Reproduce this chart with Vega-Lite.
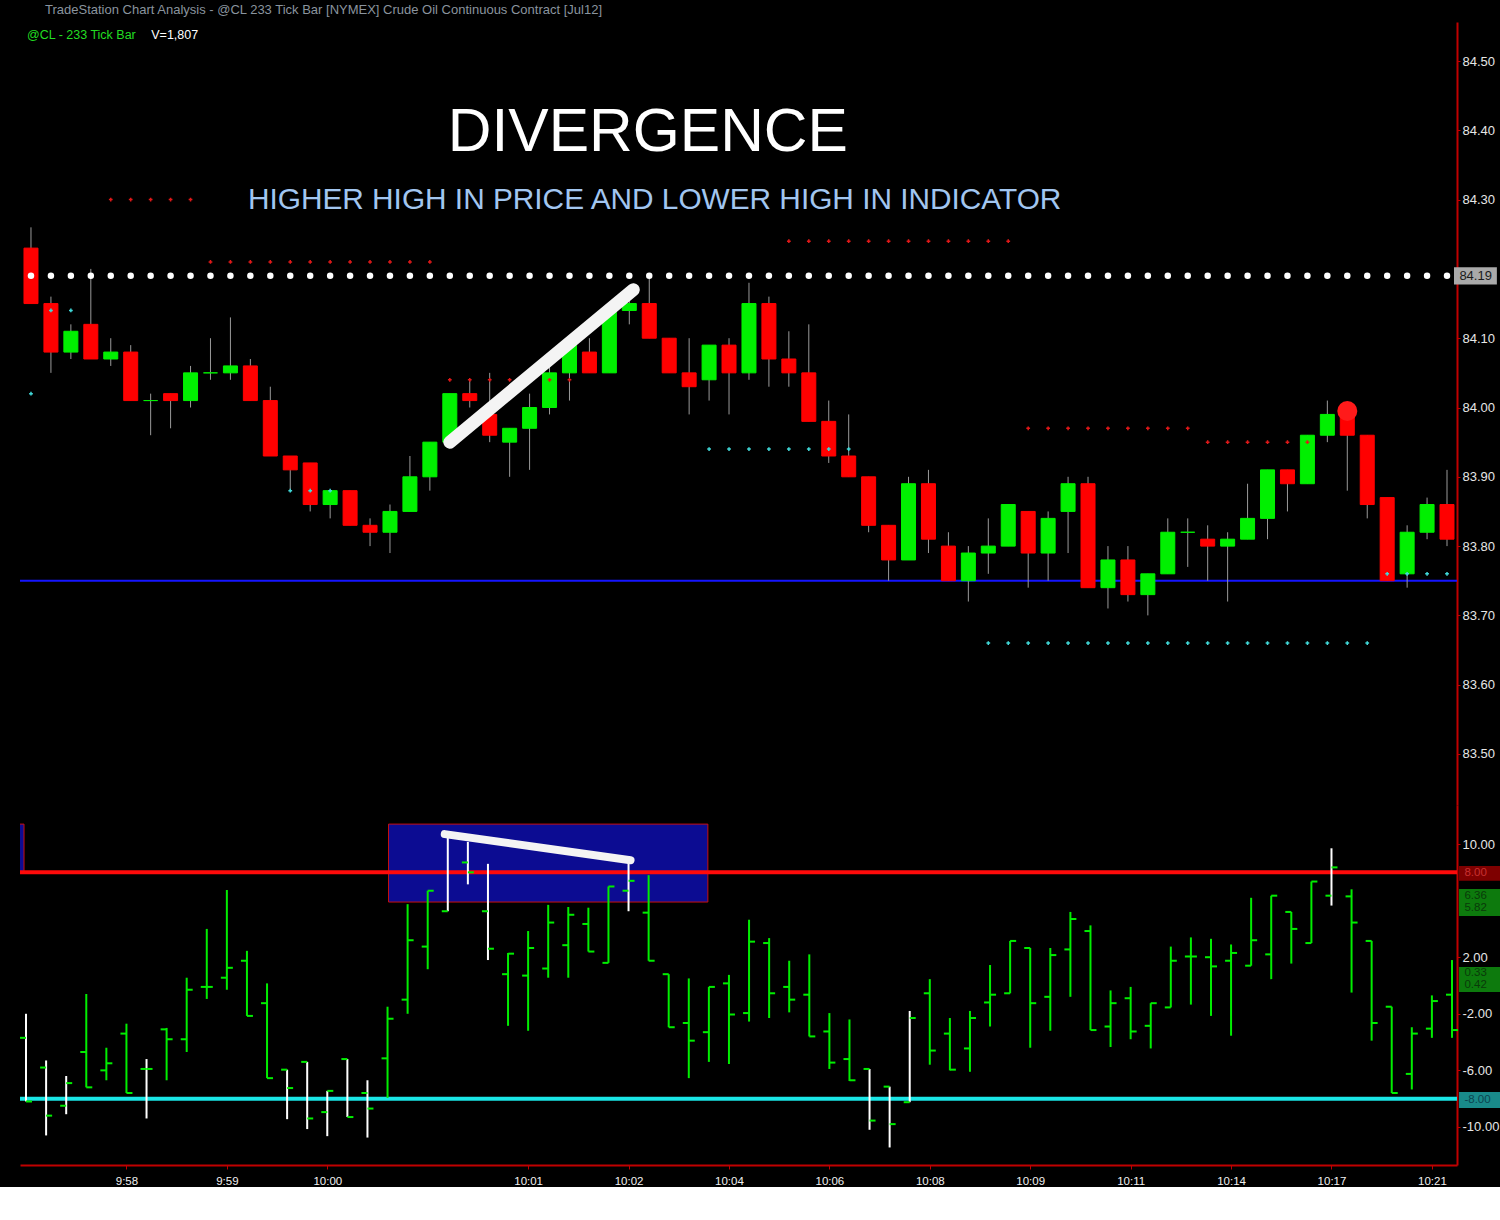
{
  "$schema": "https://vega.github.io/schema/vega-lite/v6.json",
  "background": "#000000",
  "padding": {"left": 18, "top": 4, "right": 0, "bottom": 0},
  "title": {"text": "TradeStation Chart Analysis - @CL 233 Tick Bar [NYMEX] Crude Oil Continuous Contract [Jul12]", "anchor": "start", "fontSize": 13, "font": "Liberation Sans", "fontWeight": "normal", "color": "#8a949e", "offset": 5, "dx": 27},
  "spacing": 0,
  "config": {
    "view": {"stroke": null},
    "axis": {"grid": false, "domainColor": "#c00000", "domainWidth": 2, "tickColor": "#c00000", "tickSize": 3, "labelColor": "#e6e6e6", "labelFont": "Liberation Sans", "labelFontSize": 13, "labelPadding": 2}
  },
  "resolve": {"scale": {"x": "independent", "y": "independent", "color": "independent", "fill": "independent"}},
  "datasets": {
    "bars": [
      {"i":0,"o":84.23,"h":84.26,"l":84.15,"c":84.15,"io":-3.7,"ih":-2.0,"il":-8.2,"ic":-8.2},
      {"i":1,"o":84.15,"h":84.16,"l":84.05,"c":84.08,"io":-5.8,"ih":-5.3,"il":-10.6,"ic":-9.2},
      {"i":2,"o":84.08,"h":84.12,"l":84.07,"c":84.11,"io":-8.5,"ih":-6.4,"il":-9.1,"ic":-6.9},
      {"i":3,"o":84.12,"h":84.20,"l":84.07,"c":84.07,"io":-4.7,"ih":-0.6,"il":-7.2,"ic":-7.2},
      {"i":4,"o":84.07,"h":84.10,"l":84.06,"c":84.08,"io":-6.0,"ih":-4.4,"il":-6.7,"ic":-5.5},
      {"i":5,"o":84.08,"h":84.09,"l":84.01,"c":84.01,"io":-3.4,"ih":-2.7,"il":-7.6,"ic":-7.6},
      {"i":6,"o":84.01,"h":84.02,"l":83.96,"c":84.01,"io":-5.9,"ih":-5.2,"il":-9.4,"ic":-5.9},
      {"i":7,"o":84.02,"h":84.02,"l":83.97,"c":84.01,"io":-3.1,"ih":-3.0,"il":-6.7,"ic":-3.8},
      {"i":8,"o":84.01,"h":84.06,"l":84.00,"c":84.05,"io":-3.8,"ih":0.55,"il":-4.7,"ic":-0.3},
      {"i":9,"o":84.05,"h":84.10,"l":84.04,"c":84.05,"io":-0.1,"ih":4.0,"il":-0.95,"ic":-0.1},
      {"i":10,"o":84.05,"h":84.13,"l":84.04,"c":84.06,"io":0.55,"ih":6.75,"il":-0.3,"ic":1.25},
      {"i":11,"o":84.06,"h":84.07,"l":84.01,"c":84.01,"io":1.75,"ih":2.45,"il":-2.15,"ic":-2.15},
      {"i":12,"o":84.01,"h":84.03,"l":83.93,"c":83.93,"io":-1.25,"ih":0.15,"il":-6.55,"ic":-6.55},
      {"i":13,"o":83.93,"h":83.93,"l":83.88,"c":83.91,"io":-5.95,"ih":-5.95,"il":-9.45,"ic":-7.25},
      {"i":14,"o":83.92,"h":83.92,"l":83.85,"c":83.86,"io":-5.4,"ih":-5.4,"il":-10.15,"ic":-9.4},
      {"i":15,"o":83.86,"h":83.88,"l":83.84,"c":83.88,"io":-8.95,"ih":-7.45,"il":-10.65,"ic":-7.45},
      {"i":16,"o":83.88,"h":83.88,"l":83.83,"c":83.83,"io":-5.2,"ih":-5.2,"il":-9.3,"ic":-9.3},
      {"i":17,"o":83.83,"h":83.84,"l":83.80,"c":83.82,"io":-7.6,"ih":-6.7,"il":-10.75,"ic":-8.7},
      {"i":18,"o":83.82,"h":83.86,"l":83.79,"c":83.85,"io":-5.15,"ih":-1.5,"il":-7.95,"ic":-2.35},
      {"i":19,"o":83.85,"h":83.93,"l":83.85,"c":83.90,"io":-1.0,"ih":5.75,"il":-2.0,"ic":3.2},
      {"i":20,"o":83.90,"h":83.95,"l":83.88,"c":83.95,"io":2.75,"ih":6.7,"il":1.15,"ic":6.7},
      {"i":21,"o":83.95,"h":84.02,"l":83.95,"c":84.02,"io":5.25,"ih":10.7,"il":5.25,"ic":10.6},
      {"i":22,"o":84.02,"h":84.04,"l":84.00,"c":84.01,"io":8.7,"ih":10.15,"il":7.15,"ic":8.0},
      {"i":23,"o":83.99,"h":84.05,"l":83.95,"c":83.96,"io":5.25,"ih":8.6,"il":1.8,"ic":2.6},
      {"i":24,"o":83.95,"h":83.97,"l":83.90,"c":83.97,"io":0.8,"ih":2.3,"il":-2.85,"ic":2.25},
      {"i":25,"o":83.97,"h":84.02,"l":83.91,"c":84.00,"io":0.7,"ih":3.85,"il":-3.2,"ic":2.65},
      {"i":26,"o":84.00,"h":84.06,"l":83.99,"c":84.05,"io":1.2,"ih":5.7,"il":0.55,"ic":4.45},
      {"i":27,"o":84.05,"h":84.10,"l":84.01,"c":84.09,"io":2.85,"ih":5.55,"il":0.55,"ic":5.0},
      {"i":28,"o":84.08,"h":84.10,"l":84.05,"c":84.05,"io":4.35,"ih":5.5,"il":2.4,"ic":2.4},
      {"i":29,"o":84.05,"h":84.15,"l":84.05,"c":84.14,"io":1.6,"ih":7.0,"il":1.6,"ic":7.0},
      {"i":30,"o":84.14,"h":84.16,"l":84.12,"c":84.15,"io":6.7,"ih":8.8,"il":5.25,"ic":7.4},
      {"i":31,"o":84.15,"h":84.19,"l":84.10,"c":84.10,"io":5.15,"ih":7.8,"il":1.75,"ic":1.75},
      {"i":32,"o":84.10,"h":84.10,"l":84.05,"c":84.05,"io":0.8,"ih":0.8,"il":-2.95,"ic":-2.95},
      {"i":33,"o":84.05,"h":84.10,"l":83.99,"c":84.03,"io":-2.65,"ih":0.5,"il":-6.55,"ic":-3.9},
      {"i":34,"o":84.04,"h":84.09,"l":84.01,"c":84.09,"io":-3.3,"ih":-0.1,"il":-5.4,"ic":-0.1},
      {"i":35,"o":84.09,"h":84.10,"l":83.99,"c":84.05,"io":0.15,"ih":0.75,"il":-5.55,"ic":-2.05},
      {"i":36,"o":84.05,"h":84.18,"l":84.04,"c":84.15,"io":-1.95,"ih":4.65,"il":-2.55,"ic":3.1},
      {"i":37,"o":84.15,"h":84.16,"l":84.03,"c":84.07,"io":3.0,"ih":3.35,"il":-2.3,"ic":-0.55},
      {"i":38,"o":84.07,"h":84.11,"l":84.03,"c":84.05,"io":-0.1,"ih":1.75,"il":-1.9,"ic":-1.0},
      {"i":39,"o":84.05,"h":84.12,"l":83.98,"c":83.98,"io":-0.65,"ih":2.2,"il":-3.6,"ic":-3.6},
      {"i":40,"o":83.98,"h":84.01,"l":83.92,"c":83.93,"io":-3.25,"ih":-1.95,"il":-5.9,"ic":-5.45},
      {"i":41,"o":83.93,"h":83.99,"l":83.90,"c":83.90,"io":-5.2,"ih":-2.4,"il":-6.75,"ic":-6.7},
      {"i":42,"o":83.90,"h":83.90,"l":83.82,"c":83.83,"io":-5.9,"ih":-5.9,"il":-10.2,"ic":-9.55},
      {"i":43,"o":83.83,"h":83.83,"l":83.75,"c":83.78,"io":-7.15,"ih":-7.15,"il":-11.45,"ic":-9.8},
      {"i":44,"o":83.78,"h":83.90,"l":83.78,"c":83.89,"io":-8.25,"ih":-1.8,"il":-8.25,"ic":-2.3},
      {"i":45,"o":83.89,"h":83.91,"l":83.79,"c":83.81,"io":-0.55,"ih":0.45,"il":-5.6,"ic":-4.6},
      {"i":46,"o":83.80,"h":83.82,"l":83.75,"c":83.75,"io":-3.4,"ih":-2.3,"il":-6.0,"ic":-5.95},
      {"i":47,"o":83.75,"h":83.80,"l":83.72,"c":83.79,"io":-4.45,"ih":-1.8,"il":-6.1,"ic":-2.3},
      {"i":48,"o":83.79,"h":83.84,"l":83.76,"c":83.80,"io":-1.2,"ih":1.45,"il":-2.9,"ic":-0.65},
      {"i":49,"o":83.80,"h":83.86,"l":83.80,"c":83.86,"io":-0.55,"ih":3.15,"il":-0.55,"ic":3.15},
      {"i":50,"o":83.85,"h":83.85,"l":83.74,"c":83.79,"io":2.65,"ih":2.65,"il":-4.4,"ic":-1.25},
      {"i":51,"o":83.79,"h":83.85,"l":83.75,"c":83.84,"io":-0.8,"ih":2.65,"il":-3.2,"ic":2.15},
      {"i":52,"o":83.85,"h":83.90,"l":83.79,"c":83.89,"io":2.55,"ih":5.2,"il":-0.8,"ic":4.7},
      {"i":53,"o":83.89,"h":83.90,"l":83.74,"c":83.74,"io":3.85,"ih":4.25,"il":-3.15,"ic":-3.15},
      {"i":54,"o":83.74,"h":83.80,"l":83.71,"c":83.78,"io":-2.9,"ih":-0.35,"il":-4.35,"ic":-1.25},
      {"i":55,"o":83.78,"h":83.80,"l":83.72,"c":83.73,"io":-0.9,"ih":-0.1,"il":-3.8,"ic":-3.25},
      {"i":56,"o":83.73,"h":83.76,"l":83.70,"c":83.76,"io":-2.85,"ih":-1.25,"il":-4.45,"ic":-1.25},
      {"i":57,"o":83.76,"h":83.84,"l":83.76,"c":83.82,"io":-1.55,"ih":2.75,"il":-1.55,"ic":1.75},
      {"i":58,"o":83.82,"h":83.84,"l":83.77,"c":83.82,"io":2.05,"ih":3.4,"il":-1.35,"ic":2.05},
      {"i":59,"o":83.81,"h":83.83,"l":83.75,"c":83.80,"io":2.0,"ih":3.3,"il":-2.15,"ic":1.35},
      {"i":60,"o":83.80,"h":83.82,"l":83.72,"c":83.81,"io":1.75,"ih":2.9,"il":-3.55,"ic":2.3},
      {"i":61,"o":83.81,"h":83.89,"l":83.81,"c":83.84,"io":1.4,"ih":6.2,"il":1.4,"ic":3.2},
      {"i":62,"o":83.84,"h":83.91,"l":83.81,"c":83.91,"io":2.2,"ih":6.35,"il":0.45,"ic":6.35},
      {"i":63,"o":83.91,"h":83.91,"l":83.85,"c":83.89,"io":5.2,"ih":5.2,"il":1.55,"ic":4.0},
      {"i":64,"o":83.89,"h":83.96,"l":83.89,"c":83.96,"io":3.0,"ih":7.35,"il":3.0,"ic":7.35},
      {"i":65,"o":83.96,"h":84.01,"l":83.95,"c":83.99,"io":6.35,"ih":9.7,"il":5.65,"ic":8.35},
      {"i":66,"o":83.99,"h":83.99,"l":83.88,"c":83.96,"io":6.3,"ih":6.8,"il":-0.5,"ic":4.45},
      {"i":67,"o":83.96,"h":83.96,"l":83.84,"c":83.86,"io":3.15,"ih":3.15,"il":-3.9,"ic":-2.65},
      {"i":68,"o":83.87,"h":83.87,"l":83.75,"c":83.75,"io":-1.5,"ih":-1.5,"il":-7.6,"ic":-7.6},
      {"i":69,"o":83.76,"h":83.83,"l":83.74,"c":83.82,"io":-6.25,"ih":-2.95,"il":-7.35,"ic":-3.4},
      {"i":70,"o":83.82,"h":83.87,"l":83.81,"c":83.86,"io":-3.05,"ih":-0.7,"il":-3.7,"ic":-1.1},
      {"i":71,"o":83.86,"h":83.91,"l":83.80,"c":83.81,"io":-0.65,"ih":1.8,"il":-3.7,"ic":-3.15}
    ],
    "dots": [
      {"i":4,"p":84.30,"k":"r"},{"i":5,"p":84.30,"k":"r"},{"i":6,"p":84.30,"k":"r"},{"i":7,"p":84.30,"k":"r"},{"i":8,"p":84.30,"k":"r"},
      {"i":9,"p":84.21,"k":"r"},{"i":10,"p":84.21,"k":"r"},{"i":11,"p":84.21,"k":"r"},{"i":12,"p":84.21,"k":"r"},{"i":13,"p":84.21,"k":"r"},{"i":14,"p":84.21,"k":"r"},{"i":15,"p":84.21,"k":"r"},{"i":16,"p":84.21,"k":"r"},{"i":17,"p":84.21,"k":"r"},{"i":18,"p":84.21,"k":"r"},{"i":19,"p":84.21,"k":"r"},{"i":20,"p":84.21,"k":"r"},
      {"i":21,"p":84.04,"k":"r"},{"i":22,"p":84.04,"k":"r"},{"i":23,"p":84.04,"k":"r"},{"i":24,"p":84.04,"k":"r"},{"i":25,"p":84.04,"k":"r"},{"i":26,"p":84.04,"k":"r"},{"i":27,"p":84.04,"k":"r"},
      {"i":38,"p":84.24,"k":"r"},{"i":39,"p":84.24,"k":"r"},{"i":40,"p":84.24,"k":"r"},{"i":41,"p":84.24,"k":"r"},{"i":42,"p":84.24,"k":"r"},{"i":43,"p":84.24,"k":"r"},{"i":44,"p":84.24,"k":"r"},{"i":45,"p":84.24,"k":"r"},{"i":46,"p":84.24,"k":"r"},{"i":47,"p":84.24,"k":"r"},{"i":48,"p":84.24,"k":"r"},{"i":49,"p":84.24,"k":"r"},
      {"i":50,"p":83.97,"k":"r"},{"i":51,"p":83.97,"k":"r"},{"i":52,"p":83.97,"k":"r"},{"i":53,"p":83.97,"k":"r"},{"i":54,"p":83.97,"k":"r"},{"i":55,"p":83.97,"k":"r"},{"i":56,"p":83.97,"k":"r"},{"i":57,"p":83.97,"k":"r"},{"i":58,"p":83.97,"k":"r"},
      {"i":59,"p":83.95,"k":"r"},{"i":60,"p":83.95,"k":"r"},{"i":61,"p":83.95,"k":"r"},{"i":62,"p":83.95,"k":"r"},{"i":63,"p":83.95,"k":"r"},{"i":64,"p":83.95,"k":"r"},
      {"i":0,"p":84.02,"k":"c"},{"i":1,"p":84.14,"k":"c"},{"i":2,"p":84.14,"k":"c"},
      {"i":13,"p":83.88,"k":"c"},{"i":14,"p":83.88,"k":"c"},{"i":15,"p":83.88,"k":"c"},
      {"i":34,"p":83.94,"k":"c"},{"i":35,"p":83.94,"k":"c"},{"i":36,"p":83.94,"k":"c"},{"i":37,"p":83.94,"k":"c"},{"i":38,"p":83.94,"k":"c"},{"i":39,"p":83.94,"k":"c"},{"i":40,"p":83.94,"k":"c"},{"i":41,"p":83.94,"k":"c"},
      {"i":48,"p":83.66,"k":"c"},{"i":49,"p":83.66,"k":"c"},{"i":50,"p":83.66,"k":"c"},{"i":51,"p":83.66,"k":"c"},{"i":52,"p":83.66,"k":"c"},{"i":53,"p":83.66,"k":"c"},{"i":54,"p":83.66,"k":"c"},{"i":55,"p":83.66,"k":"c"},{"i":56,"p":83.66,"k":"c"},{"i":57,"p":83.66,"k":"c"},{"i":58,"p":83.66,"k":"c"},{"i":59,"p":83.66,"k":"c"},{"i":60,"p":83.66,"k":"c"},{"i":61,"p":83.66,"k":"c"},{"i":62,"p":83.66,"k":"c"},{"i":63,"p":83.66,"k":"c"},{"i":64,"p":83.66,"k":"c"},{"i":65,"p":83.66,"k":"c"},{"i":66,"p":83.66,"k":"c"},{"i":67,"p":83.66,"k":"c"},
      {"i":68,"p":83.76,"k":"c"},{"i":69,"p":83.76,"k":"c"},{"i":70,"p":83.76,"k":"c"},{"i":71,"p":83.76,"k":"c"}
    ],
    "boxes": [
      {"m":"hi","v1":8.45,"v2":7.4},
      {"m":"pos","v1":6.82,"v2":4.91},
      {"m":"pos","v1":1.31,"v2":-0.46},
      {"m":"lo","v1":-7.53,"v2":-8.66}
    ],
    "boxlabels": [
      {"m":"hi","v":7.93,"t":"8.00"},
      {"m":"pos","v":6.33,"t":"6.36"},
      {"m":"pos","v":5.45,"t":"5.82"},
      {"m":"pos","v":0.88,"t":"0.33"},
      {"m":"pos","v":0.0,"t":"0.42"},
      {"m":"lo","v":-8.1,"t":"-8.00"}
    ]
  },
  "vconcat": [
    {
      "width": 1437,
      "height": 783,
      "layer": [
        {
          "data": {"values": [{}]},
          "mark": {"type": "rule", "color": "#1414ff", "strokeWidth": 2},
          "encoding": {
            "y": {"datum": 83.75, "type": "quantitative", "title": null}
          }
        },
        {
          "data": {"name": "bars"},
          "mark": {"type": "rule", "color": "#9a9a9a", "strokeWidth": 1},
          "encoding": {
            "x": {"field": "i", "type": "quantitative", "scale": {"domain": [-0.3, 71.25], "nice": false, "zero": false}, "axis": null},
            "y": {"field": "l", "type": "quantitative", "scale": {"domain": [83.4264, 84.5563], "nice": false, "zero": false},
                  "axis": {"orient": "right", "values": [83.5, 83.6, 83.7, 83.8, 83.9, 84.0, 84.1, 84.3, 84.4, 84.5], "format": ".2f", "title": null}},
            "y2": {"field": "h"}
          }
        },
        {
          "data": {"name": "bars"},
          "mark": {"type": "bar", "width": 14, "strokeWidth": 1},
          "encoding": {
            "x": {"field": "i", "type": "quantitative", "axis": null},
            "y": {"field": "o", "type": "quantitative", "title": null},
            "y2": {"field": "c"},
            "fill": {"condition": {"test": "datum.c >= datum.o", "value": "#00f000"}, "value": "#ff0000"},
            "stroke": {"condition": {"test": "datum.c >= datum.o", "value": "#00f000"}, "value": "#ff0000"}
          }
        },
        {
          "data": {"name": "bars"},
          "mark": {"type": "point", "filled": true, "color": "#ffffff", "size": 42, "opacity": 1},
          "encoding": {
            "x": {"field": "i", "type": "quantitative", "axis": null},
            "y": {"datum": 84.19, "type": "quantitative", "title": null}
          }
        },
        {
          "data": {"name": "dots"},
          "mark": {"type": "point", "shape": "cross", "filled": true, "size": 14, "opacity": 1},
          "encoding": {
            "x": {"field": "i", "type": "quantitative", "axis": null},
            "y": {"field": "p", "type": "quantitative", "title": null},
            "color": {"field": "k", "type": "nominal", "scale": {"domain": ["r", "c"], "range": ["#e01818", "#40d8d8"]}, "legend": null}
          }
        },
        {
          "data": {"values": [{}]},
          "mark": {"type": "point", "filled": true, "color": "#ff1a1a", "size": 400, "opacity": 1},
          "encoding": {
            "x": {"datum": 66, "type": "quantitative", "axis": null},
            "y": {"datum": 83.995, "type": "quantitative", "title": null}
          }
        },
        {
          "data": {"values": [{"i": 21, "p": 83.95}, {"i": 30.2, "p": 84.17}]},
          "mark": {"type": "line", "color": "#f4f4f4", "strokeWidth": 13, "strokeCap": "round"},
          "encoding": {
            "x": {"field": "i", "type": "quantitative", "axis": null},
            "y": {"field": "p", "type": "quantitative", "title": null}
          }
        },
        {
          "data": {"values": [{}]},
          "mark": {"type": "text", "text": "DIVERGENCE", "font": "Liberation Sans", "fontSize": 60.5, "color": "#ffffff", "align": "center", "baseline": "middle"},
          "encoding": {
            "x": {"datum": 30.93, "type": "quantitative", "axis": null},
            "y": {"datum": 84.396, "type": "quantitative", "title": null}
          }
        },
        {
          "data": {"values": [{}]},
          "mark": {"type": "text", "text": "HIGHER HIGH IN PRICE AND LOWER HIGH IN INDICATOR", "font": "Liberation Sans", "fontSize": 29.8, "color": "#a2c6f0", "align": "center", "baseline": "middle"},
          "encoding": {
            "x": {"datum": 31.27, "type": "quantitative", "axis": null},
            "y": {"datum": 84.2994, "type": "quantitative", "title": null}
          }
        },
        {
          "data": {"values": [{}]},
          "mark": {"type": "text", "text": "@CL - 233 Tick Bar", "font": "Liberation Sans", "fontSize": 12.5, "color": "#22dd22", "align": "left", "baseline": "middle"},
          "encoding": {
            "x": {"datum": -0.2, "type": "quantitative", "axis": null},
            "y": {"datum": 84.5375, "type": "quantitative", "title": null}
          }
        },
        {
          "data": {"values": [{}]},
          "mark": {"type": "text", "text": "V=1,807", "font": "Liberation Sans", "fontSize": 12.5, "color": "#ffffff", "align": "left", "baseline": "middle"},
          "encoding": {
            "x": {"datum": 6.03, "type": "quantitative", "axis": null},
            "y": {"datum": 84.5375, "type": "quantitative", "title": null}
          }
        },
        {
          "data": {"values": [{}]},
          "mark": {"type": "rect", "fill": "#a9a9a9"},
          "encoding": {
            "x": {"datum": 71.35, "type": "quantitative", "axis": null},
            "x2": {"datum": 73.5},
            "y": {"datum": 84.2025, "type": "quantitative", "title": null},
            "y2": {"datum": 84.1775}
          }
        },
        {
          "data": {"values": [{}]},
          "mark": {"type": "text", "text": "84.19", "font": "Liberation Sans", "fontSize": 13, "color": "#1a1a1a", "align": "left", "baseline": "middle"},
          "encoding": {
            "x": {"datum": 71.62, "type": "quantitative", "axis": null},
            "y": {"datum": 84.19, "type": "quantitative", "title": null}
          }
        }
      ]
    },
    {
      "width": 1437,
      "height": 360,
      "resolve": {"axis": {"x": "independent", "y": "independent"}},
      "layer": [
        {
          "data": {"values": [{}]},
          "mark": {"type": "rect", "fill": "#0c0c92", "stroke": "#c81010", "strokeWidth": 1},
          "encoding": {
            "x": {"datum": 18.05, "type": "quantitative", "axis": null},
            "x2": {"datum": 33.95},
            "y": {"datum": 11.41, "type": "quantitative", "axis": null},
            "y2": {"datum": 5.9}
          }
        },
        {
          "data": {"values": [{}]},
          "mark": {"type": "rect", "fill": "#0c0c92", "stroke": "#c81010", "strokeWidth": 1, "clip": true},
          "encoding": {
            "x": {"datum": -1.5, "type": "quantitative", "axis": null},
            "x2": {"datum": -0.1},
            "y": {"datum": 11.41, "type": "quantitative", "axis": null},
            "y2": {"datum": 7.95}
          }
        },
        {
          "data": {"values": [{}]},
          "mark": {"type": "rule", "color": "#ff0a0a", "strokeWidth": 4},
          "encoding": {"y": {"datum": 8, "type": "quantitative", "axis": null}}
        },
        {
          "data": {"values": [{}]},
          "mark": {"type": "rule", "color": "#1ae6e6", "strokeWidth": 4},
          "encoding": {"y": {"datum": -8, "type": "quantitative", "axis": null}}
        },
        {
          "data": {"name": "bars"},
          "mark": {"type": "rule", "strokeWidth": 2},
          "encoding": {
            "x": {"field": "i", "type": "quantitative", "scale": {"domain": [-0.3, 71.25], "nice": false, "zero": false},
                  "axis": {"orient": "bottom", "values": [5, 10, 15, 25, 30, 35, 40, 45, 50, 55, 60, 65, 70], "title": null,
                           "labelExpr": "['','9:58','9:59','10:00','','10:01','10:02','10:04','10:06','10:08','10:09','10:11','10:14','10:17','10:21'][datum.value / 5]",
                           "labelFont": "Liberation Sans", "labelFontSize": 11.5, "labelColor": "#f0f0f0", "tickSize": 4, "labelPadding": 6}},
            "y": {"field": "il", "type": "quantitative", "scale": {"domain": [-12.69, 12.76], "nice": false, "zero": false},
                  "axis": {"orient": "right", "values": [-10, -6, -2, 2, 10], "title": null,
                           "labelExpr": "(datum.value < 0 ? '-' : '') + format(abs(datum.value), '.2f')"}},
            "y2": {"field": "ih"},
            "color": {"condition": {"test": "datum.ih > 8 || datum.il < -8", "value": "#ffffff"}, "value": "#00ee00"}
          }
        },
        {
          "data": {"name": "bars"},
          "mark": {"type": "tick", "orient": "horizontal", "size": 6, "thickness": 2, "xOffset": -3, "color": "#00ee00", "opacity": 1},
          "encoding": {
            "x": {"field": "i", "type": "quantitative", "axis": null},
            "y": {"field": "io", "type": "quantitative", "axis": null}
          }
        },
        {
          "data": {"name": "bars"},
          "mark": {"type": "tick", "orient": "horizontal", "size": 6, "thickness": 2, "xOffset": 3, "color": "#00ee00", "opacity": 1},
          "encoding": {
            "x": {"field": "i", "type": "quantitative", "axis": null},
            "y": {"field": "ic", "type": "quantitative", "axis": null}
          }
        },
        {
          "data": {"values": [{"i": 20.85, "v": 10.7}, {"i": 30.1, "v": 8.85}]},
          "mark": {"type": "line", "color": "#f4f4f4", "strokeWidth": 8, "strokeCap": "round"},
          "encoding": {
            "x": {"field": "i", "type": "quantitative", "axis": null},
            "y": {"field": "v", "type": "quantitative", "axis": null}
          }
        },
        {
          "data": {"name": "boxes"},
          "mark": {"type": "rect"},
          "encoding": {
            "x": {"datum": 71.35, "type": "quantitative", "axis": null},
            "x2": {"datum": 73.5},
            "y": {"field": "v1", "type": "quantitative", "axis": null},
            "y2": {"field": "v2"},
            "fill": {"field": "m", "type": "nominal", "scale": {"domain": ["hi", "pos", "lo"], "range": ["#7e0000", "#0d7a0d", "#198a8a"]}, "legend": null}
          }
        },
        {
          "data": {"name": "boxlabels"},
          "mark": {"type": "text", "font": "Liberation Sans", "fontSize": 11.5, "align": "left", "baseline": "middle"},
          "encoding": {
            "x": {"datum": 71.62, "type": "quantitative", "axis": null},
            "y": {"field": "v", "type": "quantitative", "axis": null},
            "text": {"field": "t"},
            "color": {"field": "m", "type": "nominal", "scale": {"domain": ["hi", "pos", "lo"], "range": ["#c83030", "#0a3a0a", "#0b4450"]}, "legend": null}
          }
        }
      ]
    }
  ]
}
